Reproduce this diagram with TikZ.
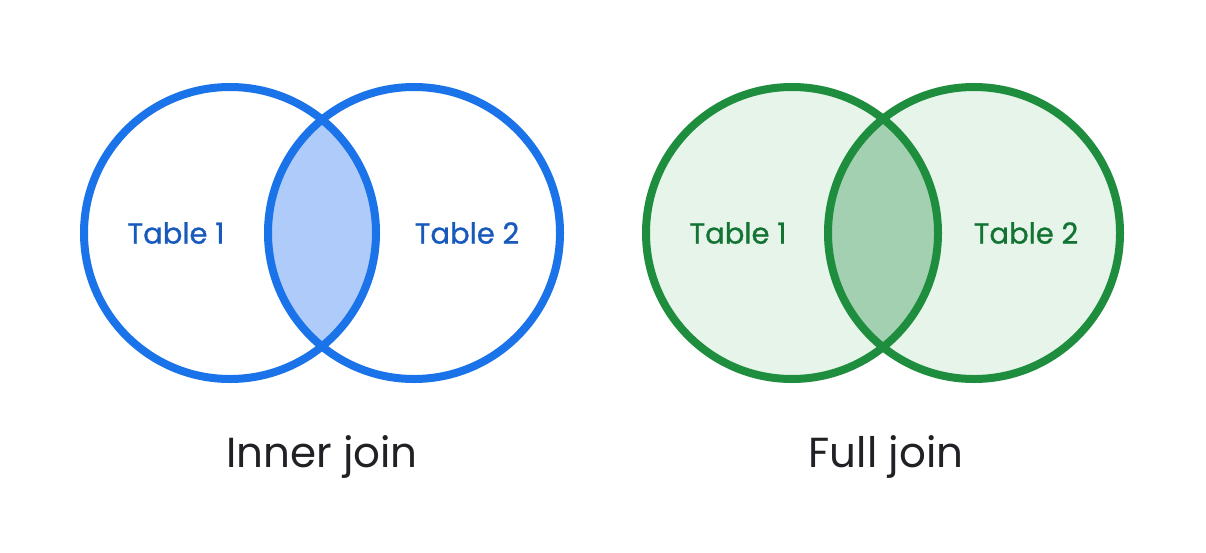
\documentclass[tikz,border=0pt]{standalone}
\usepackage{fontspec}
\setmainfont{Poppins}
\newfontfamily\tablefont{Poppins}[FakeBold=0.9]
\usepackage{tikz}
\definecolor{joinblue}{HTML}{1A73E8}
\definecolor{joinbluefill}{HTML}{AECBFA}
\definecolor{joinbluetext}{HTML}{185ABC}
\definecolor{joingreen}{HTML}{1E8E3E}
\definecolor{joingreenfill}{HTML}{E6F4EA}
\definecolor{joingreenmid}{HTML}{A2D0B0}
\definecolor{joingreentext}{HTML}{137333}
\definecolor{captiongray}{HTML}{202124}

\begin{document}
\begin{tikzpicture}[x=1pt,y=-1pt,
  ring/.style={line width=8pt},
  tablelabel/.style={font=\tablefont\fontsize{29}{34}\selectfont},
  caption/.style={font=\fontsize{42}{50}\selectfont,text=captiongray}]
\useasboundingbox (0,0) rectangle (1206,552);
\begin{scope}
  % inner join: only the overlap is filled
  \coordinate (inA) at (230,233);
  \coordinate (inB) at (414,233);
  \begin{scope}
    \clip (inA) circle[radius=146];
    \fill[joinbluefill] (inB) circle[radius=146];
  \end{scope}
  \draw[ring,joinblue] (inA) circle[radius=146];
  \draw[ring,joinblue] (inB) circle[radius=146];
  \node[tablelabel,text=joinbluetext] (inlabA) at (176,233) {Table 1};
  \node[tablelabel,text=joinbluetext] (inlabB) at (467,233) {Table 2};
  \node[caption] (incap) at (322,457) {Inner join};
\end{scope}
\begin{scope}
  % full join: both tables filled, overlap darker
  \coordinate (fuA) at (792,233);
  \coordinate (fuB) at (974,233);
  \fill[joingreenfill] (fuA) circle[radius=146];
  \fill[joingreenfill] (fuB) circle[radius=146];
  \begin{scope}
    \clip (fuA) circle[radius=146];
    \fill[joingreenmid] (fuB) circle[radius=146];
  \end{scope}
  \draw[ring,joingreen] (fuA) circle[radius=146];
  \draw[ring,joingreen] (fuB) circle[radius=146];
  \node[tablelabel,text=joingreentext] (fulabA) at (738,233) {Table 1};
  \node[tablelabel,text=joingreentext] (fulabB) at (1026,233) {Table 2};
  \node[caption] (fucap) at (886,457) {Full join};
\end{scope}
\end{tikzpicture}
\end{document}
